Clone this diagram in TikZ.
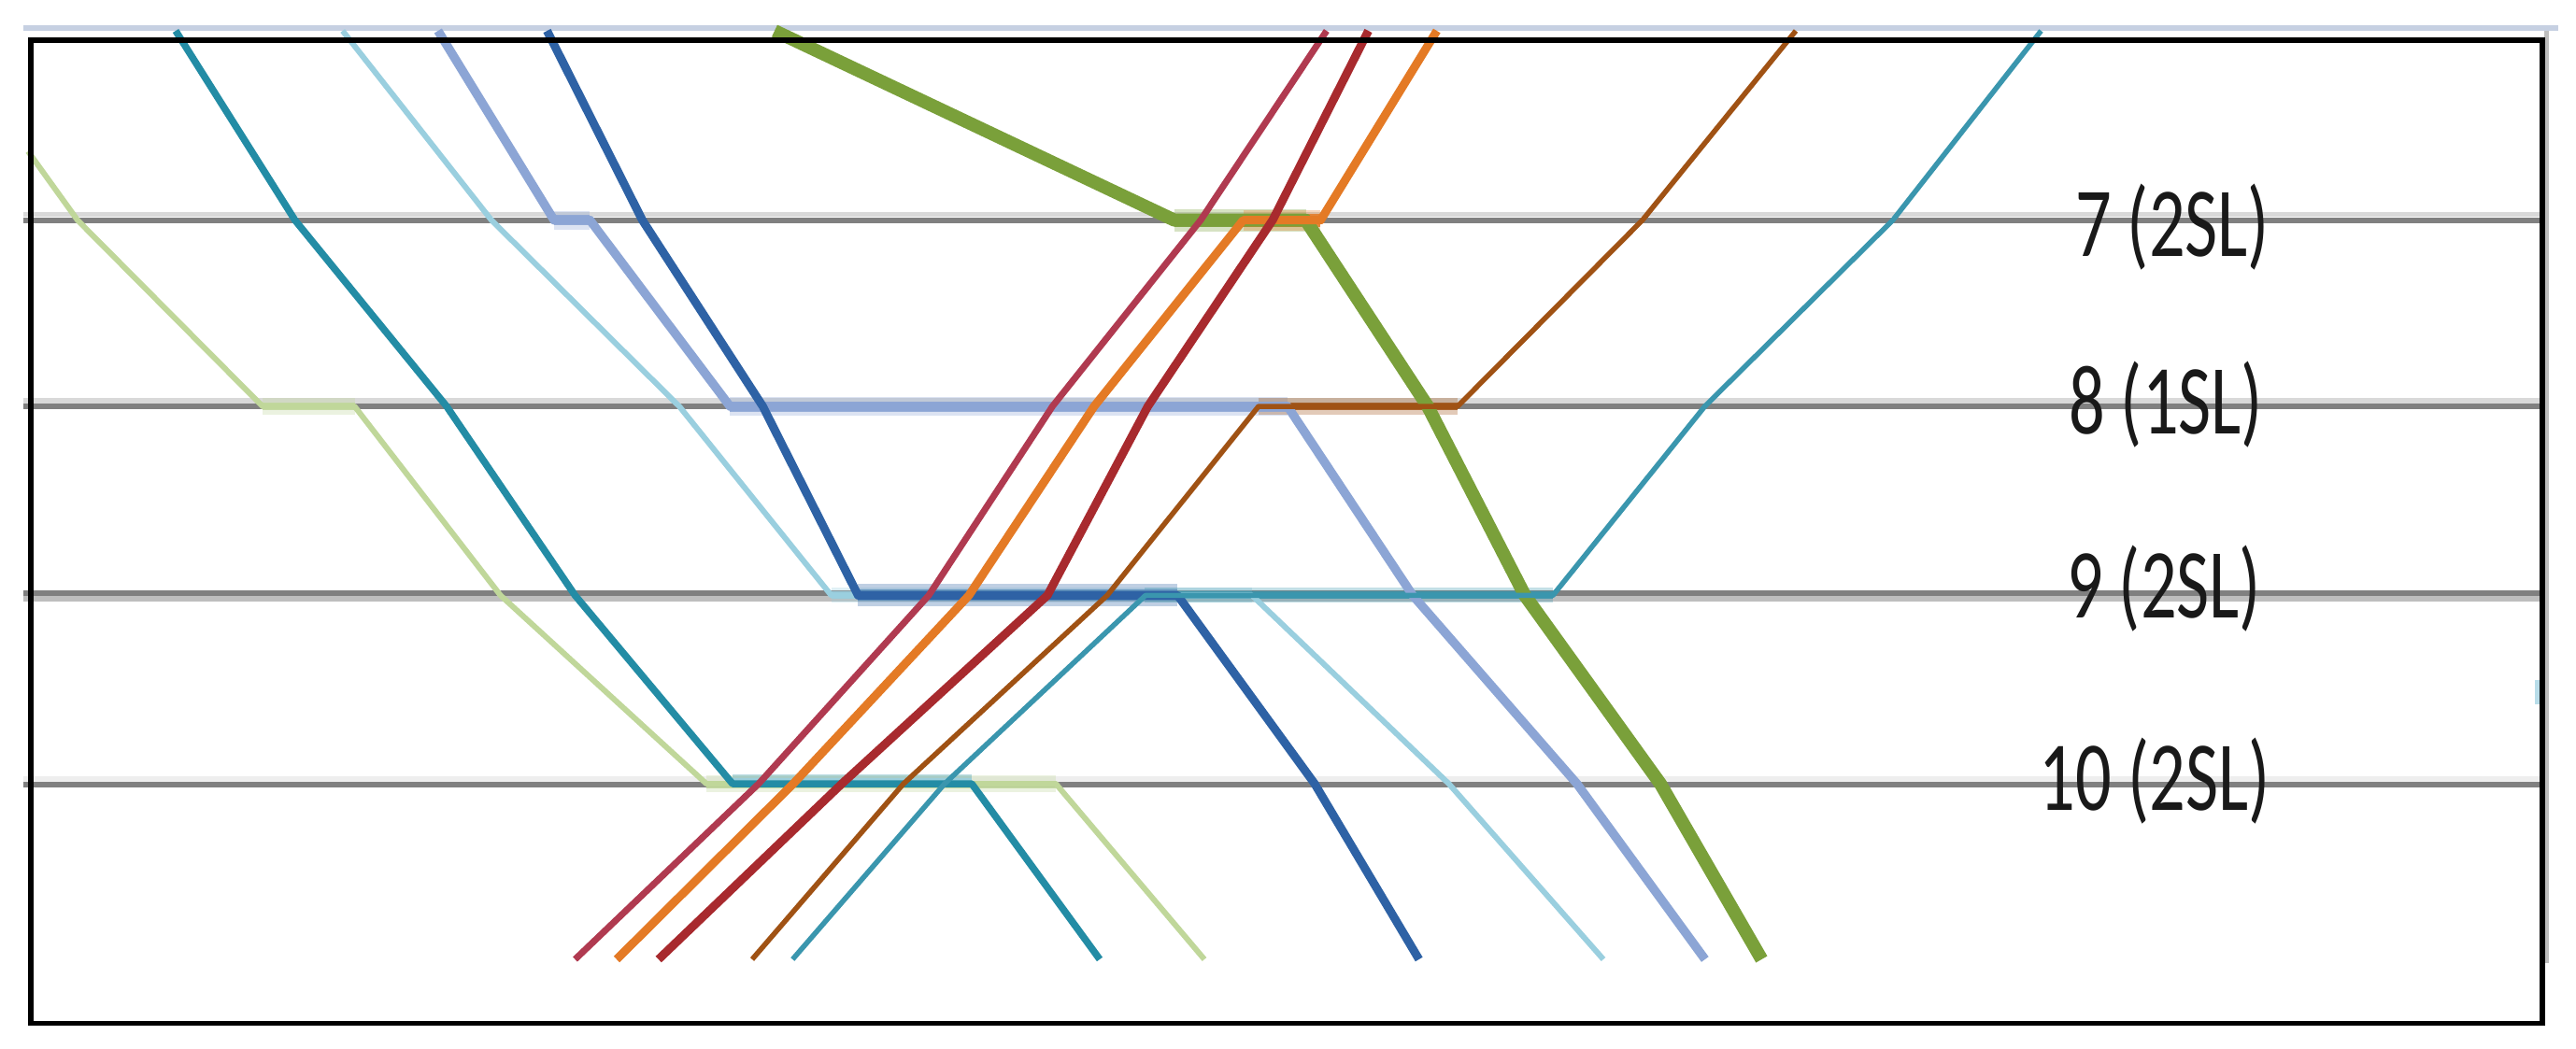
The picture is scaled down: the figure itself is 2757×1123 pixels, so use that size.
\documentclass[tikz,border=0pt]{standalone}
\usepackage{fontspec}
\setmainfont{Carlito}
\definecolor{stgray}{RGB}{128,128,128}
\definecolor{gA}{RGB}{217,217,217}
\definecolor{gB}{RGB}{190,190,190}
\definecolor{gC}{RGB}{238,238,238}
\definecolor{topband}{RGB}{198,208,226}
\definecolor{cLgreen}{RGB}{192,215,154}
\definecolor{cTeal}{RGB}{35,140,165}
\definecolor{cLblue}{RGB}{154,207,223}
\definecolor{cPeri}{RGB}{140,165,213}
\definecolor{cDblue}{RGB}{46,98,165}
\definecolor{cGreen}{RGB}{122,160,58}
\definecolor{cRose}{RGB}{176,58,80}
\definecolor{cOrange}{RGB}{228,122,37}
\definecolor{cDred}{RGB}{168,42,46}
\definecolor{cBrown}{RGB}{160,82,20}
\definecolor{cTealK}{RGB}{58,150,174}
\tikzset{
  train/.style={draw=#1, line join=round},
  halo/.style={draw=#1, opacity=0.3},
  dcore/.style={draw=#1, opacity=0.85},
  lab/.style={anchor=base, inner sep=0pt, text=black!90, font=\fontsize{106}{120}\selectfont},
}
\begin{document}
\begin{tikzpicture}[x=1pt,y=-1pt]
\useasboundingbox (0,0) rectangle (2757,1123);
\fill[white] (0,0) rectangle (2757,1123);
% top band and right shadow
\draw[topband, line width=5.5] (25,30) -- (2738,30);
\draw[gB, line width=5] (2725.5,33) -- (2725.5,1031);
\draw[cLblue!70, line width=6] (2716,728) -- (2716,754);
% station lines
\foreach \yy/\ly/\lc in {235.7/229.5/gA, 435/429/gA, 635/641/gB, 839.5/834/gC}{
  \draw[line width=5.5, \lc] (25,\ly) -- (2720,\ly);
  \draw[line width=6, stgray] (25,\yy) -- (2720,\yy);
}
% dwell halos
\draw[halo=cLgreen, line width=18] (281,435) -- (379.5,435);
\draw[halo=cLgreen, line width=18] (756,839) -- (1130,839);
\draw[halo=cTeal, line width=14] (784,836) -- (1040,836);
\draw[halo=cLblue, line width=16] (889.7,637.4) -- (1340,637.4);
\draw[halo=cPeri, line width=20] (593,235.7) -- (631.4,235.7);
\draw[halo=cPeri, line width=20] (781.3,435) -- (1378,435);
\draw[halo=cDblue, line width=24] (918.4,637.4) -- (1260.4,637.4);
\draw[halo=cGreen, line width=24] (1257,235.7) -- (1397.5,235.7);
\draw[halo=cOrange, line width=22] (1330.5,235.7) -- (1413.4,235.7);
\draw[halo=cBrown, line width=18] (1346.5,435) -- (1560,435);
\draw[halo=cTealK, line width=16] (1225.3,637.4) -- (1662,637.4);
% dwell cores
\draw[dcore=cLgreen, line width=8] (281,435) -- (379.5,435);
\draw[dcore=cLgreen, line width=8] (756,840) -- (1130,840);
\draw[dcore=cLblue, line width=7] (784,836) -- (1040,836);
\draw[dcore=cLblue, line width=8] (889.7,637.4) -- (1340,637.4);
\draw[dcore=cPeri, line width=11] (593,235.7) -- (631.4,235.7);
\draw[dcore=cPeri, line width=11] (781.3,435) -- (1378,435);
\draw[dcore=cDblue!60!cLblue, line width=12] (918.4,637.4) -- (1260.4,637.4);
\draw[dcore=cTealK, line width=8] (1225.3,637.4) -- (1662,637.4);
\draw[dcore=cGreen, line width=14] (1257,235.7) -- (1397.5,235.7);
\draw[dcore=cOrange, line width=14] (1330.5,235.7) -- (1413.4,235.7);
\draw[dcore=cBrown, line width=8] (1346.5,435) -- (1560,435);
% descending trains
\draw[train=cLgreen, line width=6] (30,162) -- (83,235.7) -- (281,435) -- (379.5,435) -- (535.7,637.4) -- (756,839) -- (1130,839) -- (1289,1027);
\draw[train=cTeal, line width=7.5] (188,33) -- (315.7,235.7) -- (478,435) -- (615.5,637.4) -- (784,839) -- (1040,839) -- (1177,1027);
\draw[train=cLblue, line width=6] (366.7,33) -- (526,235.7) -- (727,435) -- (889.7,637.4) -- (1340,637.4) -- (1550.6,839) -- (1716,1027);
\draw[train=cPeri, line width=9.5] (468.8,33) -- (593,235.7) -- (631.4,235.7) -- (781.3,435) -- (1378,435) -- (1512,637.4) -- (1687.7,839) -- (1824.8,1027);
\draw[train=cDblue, line width=9] (585.5,33) -- (687.5,235.7) -- (816.4,435) -- (918.4,637.4) -- (1260.4,637.4) -- (1407,839) -- (1518.7,1027);
\draw[train=cGreen, line width=14] (829,33) -- (1257,235.7) -- (1397.5,235.7) -- (1528,435) -- (1632,637.4) -- (1777,839) -- (1885.4,1027);
% ascending trains
\draw[train=cRose, line width=7] (615.5,1027) -- (812,839) -- (994,637.4) -- (1126.4,435) -- (1285,235.7) -- (1419.8,33);
\draw[train=cOrange, line width=9] (660,1027) -- (849,839) -- (1037,637.4) -- (1171,435) -- (1330.5,235.7) -- (1413.4,235.7) -- (1537.8,33);
\draw[train=cDred, line width=9] (704.8,1027) -- (901,839) -- (1121,637.4) -- (1228.5,435) -- (1362,235.7) -- (1464.5,33);
\draw[train=cBrown, line width=5.5] (805,1027) -- (967,839) -- (1185,637.4) -- (1347,435) -- (1560,435) -- (1757.8,235.7) -- (1922,33);
\draw[train=cTealK, line width=5.5] (848.3,1027) -- (1011,839) -- (1226,637.4) -- (1662,637.4) -- (1824.6,435) -- (2025.8,235.7) -- (2184.5,33);
% frame
\draw[black, line width=5.5] (33,43) rectangle (2721,1095.5);
% labels
\node[lab] (l7) at (2325,275) {\scalebox{0.72}[1]{7 (2SL)}};
\node[lab] (l8) at (2318,464) {\scalebox{0.72}[1]{8 (1SL)}};
\node[lab] (l9) at (2316,661) {\scalebox{0.72}[1]{9 (2SL)}};
\node[lab] (l10) at (2306,867) {\scalebox{0.72}[1]{10 (2SL)}};
\end{tikzpicture}
\end{document}
